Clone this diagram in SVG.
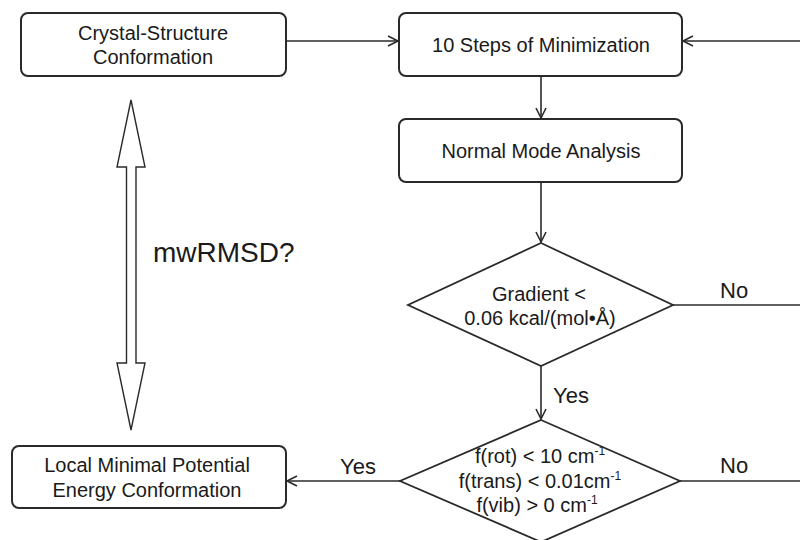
<svg xmlns="http://www.w3.org/2000/svg" width="800" height="540" viewBox="0 0 800 540">
<defs>
<style>
.box{fill:#fff;stroke:#2a2a2a;stroke-width:2}
.dia{fill:#fff;stroke:#2a2a2a;stroke-width:1.8}
.ln{fill:none;stroke:#2a2a2a;stroke-width:1.6}
.t{font-family:"Liberation Sans",Arial,sans-serif;font-size:20px;fill:#1a1a1a;text-anchor:middle}
.lbl{font-family:"Liberation Sans",Arial,sans-serif;font-size:22px;fill:#1a1a1a}
.sup{font-size:12px}
</style>
<marker id="ah" markerWidth="14" markerHeight="14" refX="11" refY="6" orient="auto" markerUnits="userSpaceOnUse">
<path d="M1,1 L11,6 L1,11" fill="none" stroke="#2a2a2a" stroke-width="1.6"/>
</marker>
</defs>
<rect width="800" height="540" fill="#fff"/>
<g id="connectors">
<line class="ln" x1="286" y1="41" x2="398" y2="41" marker-end="url(#ah)"/>
<line class="ln" x1="800" y1="41" x2="683" y2="41" marker-end="url(#ah)"/>
<line class="ln" x1="541" y1="76" x2="541" y2="118" marker-end="url(#ah)"/>
<line class="ln" x1="541" y1="182" x2="541" y2="242" marker-end="url(#ah)"/>
<line class="ln" x1="673" y1="305" x2="800" y2="305"/>
<line class="ln" x1="541" y1="366" x2="541" y2="419" marker-end="url(#ah)"/>
<line class="ln" x1="680" y1="481" x2="800" y2="481"/>
<line class="ln" x1="400" y1="481" x2="287" y2="481" marker-end="url(#ah)"/>
<path id="dblarrow" d="M131,100 L145,167 L136,167 L136,363 L145,363 L131,430 L117,363 L126.5,363 L126.5,167 L117,167 Z" fill="#fff" stroke="#2a2a2a" stroke-width="1.4" stroke-linejoin="miter"/>
<text class="lbl" x="720" y="298">No</text>
<text class="lbl" x="553" y="403">Yes</text>
<text class="lbl" x="720" y="473">No</text>
<text class="lbl" x="340" y="474">Yes</text>
<text class="lbl" x="153" y="262" style="font-size:28px">mwRMSD?</text>
</g>
<g id="crystal">
<rect class="box" x="21" y="13" width="265" height="63" rx="7"/>
<text class="t" x="153" y="40">Crystal-Structure</text>
<text class="t" x="153" y="64">Conformation</text>
</g>
<g id="minimization">
<rect class="box" x="399" y="13" width="283" height="63" rx="7"/>
<text class="t" x="541" y="52">10 Steps of Minimization</text>
</g>
<g id="nma">
<rect class="box" x="399" y="119" width="283" height="63" rx="7"/>
<text class="t" x="541" y="158">Normal Mode Analysis</text>
</g>
<g id="gradient">
<polygon class="dia" points="541,243 673,305 541,366 408,305"/>
<text class="t" x="539" y="301">Gradient &lt;</text>
<text class="t" x="540" y="325">0.06 kcal/(mol•Å)</text>
</g>
<g id="freq">
<polygon class="dia" points="541,420 680,481 541,542 400,481"/>
<text class="t" x="540" y="463">f(rot) &lt; 10 cm<tspan class="sup" dy="-8">-1</tspan></text>
<text class="t" x="540" y="488">f(trans) &lt; 0.01cm<tspan class="sup" dy="-8">-1</tspan></text>
<text class="t" x="537" y="512">f(vib) &gt; 0 cm<tspan class="sup" dy="-8">-1</tspan></text>
</g>
<g id="local">
<rect class="box" x="12" y="446" width="274" height="62" rx="7"/>
<text class="t" x="147" y="472">Local Minimal Potential</text>
<text class="t" x="147" y="497">Energy Conformation</text>
</g>
</svg>
